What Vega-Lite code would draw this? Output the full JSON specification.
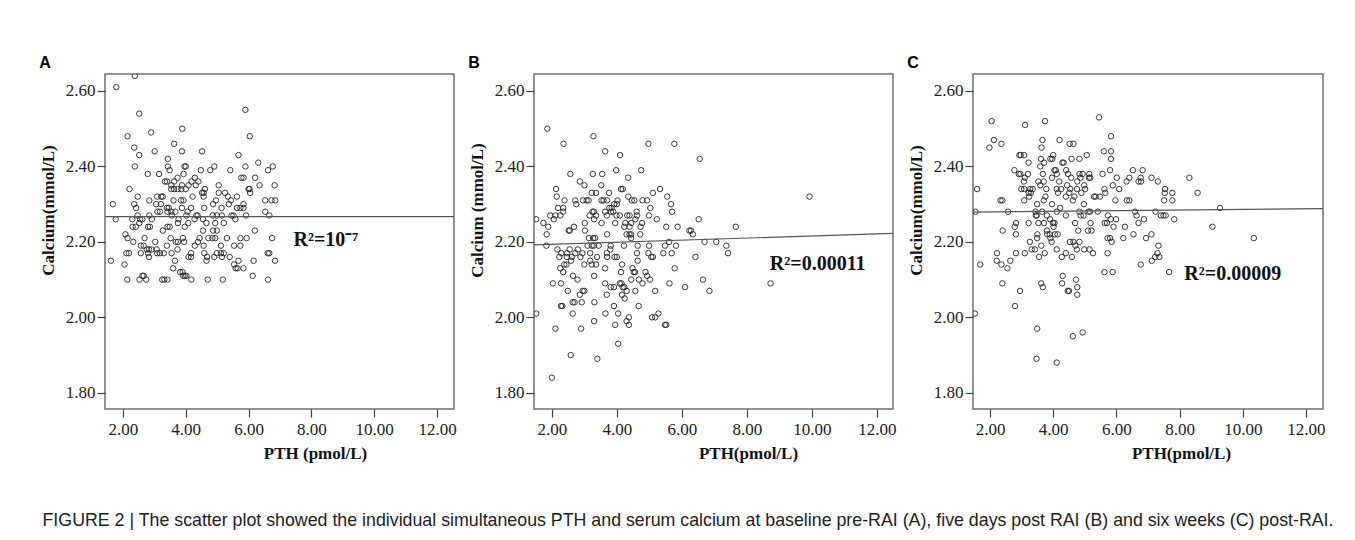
{
"$schema": "https://vega.github.io/schema/vega-lite/v6.json",
"background": "white",
"padding": {"left": 38, "top": 54, "right": 5, "bottom": 5},
"bounds": "flush",
"spacing": 80,
"title": {"text": "FIGURE 2 | The scatter plot showed the individual simultaneous PTH and serum calcium at baseline pre-RAI (A), five days post RAI (B) and six weeks (C) post-RAI.", "orient": "bottom", "anchor": "start", "frame": "bounds", "font": "Liberation Sans", "fontSize": 17.8, "fontWeight": "normal", "color": "#222", "offset": 50, "dx": 4},
"config": {
  "view": {"stroke": "#707070", "strokeWidth": 1.5},
  "axis": {"grid": false, "domain": false, "labelFont": "Liberation Serif", "labelFontSize": 17, "labelColor": "#222", "tickColor": "#444", "tickSize": 8, "tickWidth": 1.2, "labelPadding": 3, "titleFont": "Liberation Serif", "titleFontSize": 17, "titleFontWeight": "bold", "titleColor": "#111"},
  "axisX": {"titlePadding": 8, "labelPadding": 4},
  "axisY": {"titlePadding": 8, "labelPadding": 2},
  "title": {"font": "Liberation Sans", "fontSize": 16, "fontWeight": "bold", "anchor": "start", "frame": "bounds", "offset": 3, "color": "#000"}
},
"datasets": {
"A": [{"p":2.38,"c":2.64},{"p":1.79,"c":2.61},{"p":2.52,"c":2.54},{"p":5.90,"c":2.55},{"p":3.89,"c":2.50},{"p":2.90,"c":2.49},{"p":2.15,"c":2.48},{"p":6.04,"c":2.48},{"p":3.63,"c":2.46},{"p":2.36,"c":2.45},{"p":3.01,"c":2.44},{"p":3.88,"c":2.44},{"p":4.52,"c":2.44},{"p":2.52,"c":2.43},{"p":5.68,"c":2.43},{"p":3.43,"c":2.42},{"p":6.31,"c":2.41},{"p":2.38,"c":2.40},{"p":3.43,"c":2.40},{"p":3.96,"c":2.40},{"p":4.00,"c":2.40},{"p":4.91,"c":2.40},{"p":5.90,"c":2.40},{"p":6.77,"c":2.40},{"p":3.49,"c":2.39},{"p":4.48,"c":2.39},{"p":4.78,"c":2.39},{"p":5.42,"c":2.39},{"p":6.62,"c":2.39},{"p":2.79,"c":2.38},{"p":3.15,"c":2.38},{"p":3.93,"c":2.38},{"p":5.77,"c":2.37},{"p":5.84,"c":2.37},{"p":6.21,"c":2.37},{"p":4.29,"c":2.37},{"p":3.74,"c":2.37},{"p":3.34,"c":2.36},{"p":3.40,"c":2.36},{"p":3.63,"c":2.36},{"p":4.18,"c":2.36},{"p":4.40,"c":2.36},{"p":6.00,"c":2.34},{"p":6.03,"c":2.34},{"p":3.54,"c":2.35},{"p":3.88,"c":2.35},{"p":4.32,"c":2.35},{"p":5.05,"c":2.35},{"p":6.35,"c":2.35},{"p":6.83,"c":2.35},{"p":2.21,"c":2.34},{"p":3.54,"c":2.34},{"p":3.63,"c":2.34},{"p":3.74,"c":2.34},{"p":3.86,"c":2.34},{"p":4.00,"c":2.34},{"p":4.09,"c":2.35},{"p":4.61,"c":2.34},{"p":4.52,"c":2.33},{"p":4.57,"c":2.33},{"p":5.05,"c":2.33},{"p":5.25,"c":2.33},{"p":6.05,"c":2.33},{"p":2.47,"c":2.32},{"p":3.09,"c":2.32},{"p":3.22,"c":2.32},{"p":3.27,"c":2.32},{"p":4.22,"c":2.32},{"p":4.57,"c":2.32},{"p":5.34,"c":2.32},{"p":5.63,"c":2.32},{"p":2.84,"c":2.31},{"p":3.85,"c":2.31},{"p":3.93,"c":2.31},{"p":3.61,"c":2.31},{"p":4.96,"c":2.31},{"p":5.44,"c":2.31},{"p":6.53,"c":2.31},{"p":6.73,"c":2.31},{"p":6.85,"c":2.31},{"p":1.68,"c":2.30},{"p":2.36,"c":2.30},{"p":3.06,"c":2.30},{"p":3.21,"c":2.30},{"p":4.87,"c":2.30},{"p":5.37,"c":2.30},{"p":5.84,"c":2.30},{"p":2.42,"c":2.29},{"p":3.40,"c":2.29},{"p":3.46,"c":2.29},{"p":3.88,"c":2.29},{"p":4.17,"c":2.29},{"p":4.59,"c":2.29},{"p":5.14,"c":2.29},{"p":5.63,"c":2.29},{"p":5.74,"c":2.29},{"p":5.84,"c":2.29},{"p":3.10,"c":2.28},{"p":3.18,"c":2.28},{"p":3.42,"c":2.28},{"p":3.54,"c":2.28},{"p":3.67,"c":2.28},{"p":4.06,"c":2.28},{"p":6.53,"c":2.28},{"p":1.77,"c":2.26},{"p":2.47,"c":2.27},{"p":2.84,"c":2.27},{"p":3.56,"c":2.27},{"p":4.02,"c":2.27},{"p":4.34,"c":2.27},{"p":4.38,"c":2.27},{"p":4.86,"c":2.27},{"p":4.99,"c":2.27},{"p":5.15,"c":2.27},{"p":5.46,"c":2.27},{"p":5.52,"c":2.27},{"p":5.92,"c":2.27},{"p":6.66,"c":2.27},{"p":2.30,"c":2.26},{"p":2.55,"c":2.26},{"p":2.62,"c":2.26},{"p":2.92,"c":2.26},{"p":3.77,"c":2.26},{"p":4.28,"c":2.26},{"p":4.55,"c":2.26},{"p":5.58,"c":2.26},{"p":2.31,"c":2.24},{"p":2.41,"c":2.24},{"p":2.52,"c":2.25},{"p":2.80,"c":2.24},{"p":2.86,"c":2.24},{"p":3.27,"c":2.23},{"p":3.42,"c":2.24},{"p":3.49,"c":2.24},{"p":3.75,"c":2.25},{"p":4.08,"c":2.25},{"p":4.66,"c":2.25},{"p":4.94,"c":2.25},{"p":5.21,"c":2.25},{"p":3.97,"c":2.24},{"p":4.55,"c":2.23},{"p":4.87,"c":2.23},{"p":4.99,"c":2.23},{"p":6.20,"c":2.23},{"p":2.08,"c":2.22},{"p":2.15,"c":2.21},{"p":2.33,"c":2.20},{"p":2.69,"c":2.21},{"p":3.52,"c":2.21},{"p":3.91,"c":2.21},{"p":4.44,"c":2.21},{"p":4.72,"c":2.21},{"p":4.85,"c":2.21},{"p":4.94,"c":2.21},{"p":5.31,"c":2.21},{"p":5.74,"c":2.21},{"p":5.94,"c":2.21},{"p":6.75,"c":2.21},{"p":3.03,"c":2.20},{"p":3.68,"c":2.20},{"p":3.75,"c":2.20},{"p":3.95,"c":2.20},{"p":4.39,"c":2.20},{"p":2.57,"c":2.19},{"p":2.66,"c":2.19},{"p":3.40,"c":2.19},{"p":4.29,"c":2.19},{"p":4.57,"c":2.19},{"p":5.12,"c":2.19},{"p":5.54,"c":2.19},{"p":5.74,"c":2.19},{"p":2.76,"c":2.18},{"p":2.83,"c":2.18},{"p":2.91,"c":2.18},{"p":3.08,"c":2.18},{"p":3.74,"c":2.18},{"p":2.11,"c":2.17},{"p":2.19,"c":2.17},{"p":2.57,"c":2.17},{"p":2.80,"c":2.17},{"p":3.09,"c":2.17},{"p":3.18,"c":2.17},{"p":3.30,"c":2.17},{"p":3.55,"c":2.17},{"p":4.17,"c":2.17},{"p":4.59,"c":2.17},{"p":4.99,"c":2.17},{"p":5.12,"c":2.17},{"p":5.21,"c":2.17},{"p":6.61,"c":2.17},{"p":6.66,"c":2.17},{"p":1.62,"c":2.15},{"p":2.83,"c":2.16},{"p":4.09,"c":2.16},{"p":4.17,"c":2.16},{"p":4.68,"c":2.16},{"p":4.91,"c":2.16},{"p":5.15,"c":2.16},{"p":5.40,"c":2.16},{"p":3.66,"c":2.15},{"p":4.66,"c":2.15},{"p":5.68,"c":2.15},{"p":6.16,"c":2.15},{"p":6.84,"c":2.15},{"p":2.05,"c":2.14},{"p":5.54,"c":2.14},{"p":5.59,"c":2.13},{"p":5.65,"c":2.13},{"p":5.84,"c":2.13},{"p":3.60,"c":2.13},{"p":3.82,"c":2.12},{"p":3.90,"c":2.12},{"p":3.92,"c":2.11},{"p":3.97,"c":2.11},{"p":4.02,"c":2.11},{"p":2.62,"c":2.11},{"p":2.66,"c":2.11},{"p":6.13,"c":2.11},{"p":2.14,"c":2.10},{"p":2.53,"c":2.10},{"p":2.74,"c":2.10},{"p":3.25,"c":2.10},{"p":3.32,"c":2.10},{"p":3.42,"c":2.10},{"p":4.18,"c":2.10},{"p":4.70,"c":2.10},{"p":5.18,"c":2.10},{"p":6.62,"c":2.10}],
"B": [{"p":1.86,"c":2.50},{"p":3.28,"c":2.48},{"p":2.36,"c":2.46},{"p":4.97,"c":2.46},{"p":5.77,"c":2.46},{"p":3.64,"c":2.44},{"p":4.10,"c":2.43},{"p":6.55,"c":2.42},{"p":3.98,"c":2.39},{"p":4.75,"c":2.39},{"p":2.57,"c":2.38},{"p":3.26,"c":2.38},{"p":3.55,"c":2.38},{"p":4.35,"c":2.37},{"p":2.86,"c":2.36},{"p":3.00,"c":2.35},{"p":3.52,"c":2.35},{"p":5.33,"c":2.34},{"p":2.13,"c":2.34},{"p":4.13,"c":2.34},{"p":4.18,"c":2.34},{"p":3.36,"c":2.33},{"p":3.76,"c":2.33},{"p":5.11,"c":2.33},{"p":2.15,"c":2.32},{"p":3.23,"c":2.33},{"p":4.35,"c":2.32},{"p":5.55,"c":2.32},{"p":2.39,"c":2.31},{"p":2.72,"c":2.31},{"p":2.96,"c":2.31},{"p":3.07,"c":2.31},{"p":3.13,"c":2.31},{"p":3.53,"c":2.31},{"p":3.59,"c":2.31},{"p":3.70,"c":2.31},{"p":4.02,"c":2.31},{"p":4.46,"c":2.31},{"p":4.54,"c":2.31},{"p":4.79,"c":2.31},{"p":4.93,"c":2.31},{"p":2.75,"c":2.30},{"p":3.92,"c":2.30},{"p":4.00,"c":2.30},{"p":5.67,"c":2.30},{"p":2.19,"c":2.29},{"p":2.35,"c":2.29},{"p":3.77,"c":2.29},{"p":3.84,"c":2.29},{"p":5.03,"c":2.29},{"p":3.25,"c":2.28},{"p":3.29,"c":2.28},{"p":2.35,"c":2.28},{"p":3.64,"c":2.28},{"p":3.82,"c":2.28},{"p":3.89,"c":2.28},{"p":4.61,"c":2.28},{"p":5.70,"c":2.28},{"p":1.95,"c":2.27},{"p":2.11,"c":2.27},{"p":2.26,"c":2.27},{"p":3.16,"c":2.27},{"p":3.36,"c":2.27},{"p":3.69,"c":2.27},{"p":3.99,"c":2.27},{"p":4.09,"c":2.27},{"p":4.32,"c":2.27},{"p":4.39,"c":2.27},{"p":4.62,"c":2.27},{"p":4.99,"c":2.27},{"p":1.52,"c":2.26},{"p":2.06,"c":2.26},{"p":3.30,"c":2.26},{"p":4.57,"c":2.26},{"p":5.23,"c":2.26},{"p":6.52,"c":2.26},{"p":1.74,"c":2.25},{"p":3.01,"c":2.25},{"p":3.53,"c":2.25},{"p":3.95,"c":2.25},{"p":4.26,"c":2.25},{"p":4.44,"c":2.25},{"p":4.78,"c":2.25},{"p":1.89,"c":2.24},{"p":2.68,"c":2.24},{"p":4.23,"c":2.24},{"p":4.39,"c":2.24},{"p":4.73,"c":2.24},{"p":5.52,"c":2.24},{"p":5.87,"c":2.24},{"p":7.66,"c":2.24},{"p":2.52,"c":2.23},{"p":2.55,"c":2.23},{"p":3.02,"c":2.23},{"p":6.23,"c":2.23},{"p":6.28,"c":2.23},{"p":1.84,"c":2.22},{"p":3.70,"c":2.22},{"p":4.30,"c":2.22},{"p":4.39,"c":2.22},{"p":4.44,"c":2.22},{"p":4.72,"c":2.22},{"p":6.34,"c":2.22},{"p":3.14,"c":2.21},{"p":3.27,"c":2.21},{"p":3.33,"c":2.21},{"p":4.44,"c":2.21},{"p":5.61,"c":2.20},{"p":6.70,"c":2.20},{"p":7.06,"c":2.20},{"p":1.83,"c":2.19},{"p":3.10,"c":2.19},{"p":3.23,"c":2.19},{"p":3.29,"c":2.19},{"p":3.44,"c":2.19},{"p":3.81,"c":2.19},{"p":4.22,"c":2.19},{"p":4.64,"c":2.19},{"p":4.99,"c":2.19},{"p":5.48,"c":2.19},{"p":5.82,"c":2.19},{"p":7.37,"c":2.19},{"p":2.17,"c":2.18},{"p":2.55,"c":2.18},{"p":2.80,"c":2.18},{"p":3.80,"c":2.18},{"p":2.29,"c":2.17},{"p":2.47,"c":2.17},{"p":2.72,"c":2.17},{"p":2.94,"c":2.17},{"p":3.18,"c":2.17},{"p":3.69,"c":2.17},{"p":4.62,"c":2.17},{"p":4.97,"c":2.17},{"p":5.43,"c":2.17},{"p":5.69,"c":2.17},{"p":7.42,"c":2.17},{"p":2.23,"c":2.16},{"p":2.46,"c":2.16},{"p":2.61,"c":2.16},{"p":2.88,"c":2.16},{"p":3.39,"c":2.16},{"p":3.70,"c":2.16},{"p":3.93,"c":2.16},{"p":4.00,"c":2.16},{"p":5.06,"c":2.16},{"p":5.11,"c":2.16},{"p":6.42,"c":2.16},{"p":2.59,"c":2.15},{"p":3.18,"c":2.15},{"p":4.64,"c":2.15},{"p":2.38,"c":2.14},{"p":2.45,"c":2.14},{"p":3.00,"c":2.14},{"p":3.23,"c":2.14},{"p":3.36,"c":2.14},{"p":4.16,"c":2.14},{"p":5.78,"c":2.13},{"p":2.26,"c":2.13},{"p":3.64,"c":2.13},{"p":4.48,"c":2.13},{"p":2.35,"c":2.12},{"p":4.13,"c":2.12},{"p":4.52,"c":2.12},{"p":4.56,"c":2.12},{"p":4.88,"c":2.12},{"p":2.65,"c":2.11},{"p":3.30,"c":2.11},{"p":4.93,"c":2.11},{"p":6.65,"c":2.10},{"p":2.79,"c":2.10},{"p":4.44,"c":2.10},{"p":4.68,"c":2.10},{"p":5.02,"c":2.10},{"p":2.03,"c":2.09},{"p":2.28,"c":2.09},{"p":3.64,"c":2.09},{"p":4.09,"c":2.09},{"p":4.14,"c":2.09},{"p":4.79,"c":2.09},{"p":5.62,"c":2.09},{"p":8.73,"c":2.09},{"p":3.81,"c":2.08},{"p":3.91,"c":2.08},{"p":4.18,"c":2.08},{"p":4.23,"c":2.08},{"p":6.10,"c":2.08},{"p":3.00,"c":2.07},{"p":2.49,"c":2.07},{"p":2.95,"c":2.07},{"p":4.30,"c":2.07},{"p":4.57,"c":2.07},{"p":5.18,"c":2.07},{"p":6.85,"c":2.07},{"p":2.86,"c":2.06},{"p":3.69,"c":2.06},{"p":4.16,"c":2.06},{"p":4.24,"c":2.05},{"p":2.64,"c":2.04},{"p":2.70,"c":2.04},{"p":2.92,"c":2.04},{"p":3.31,"c":2.04},{"p":2.28,"c":2.03},{"p":2.32,"c":2.03},{"p":3.91,"c":2.03},{"p":4.67,"c":2.03},{"p":1.52,"c":2.01},{"p":2.64,"c":2.01},{"p":3.65,"c":2.01},{"p":4.04,"c":2.01},{"p":5.28,"c":2.01},{"p":4.37,"c":2.00},{"p":5.08,"c":2.00},{"p":5.18,"c":2.00},{"p":4.30,"c":1.99},{"p":3.30,"c":1.99},{"p":2.11,"c":1.97},{"p":2.90,"c":1.97},{"p":3.95,"c":1.98},{"p":4.37,"c":1.98},{"p":5.48,"c":1.98},{"p":5.52,"c":1.98},{"p":4.04,"c":1.93},{"p":2.58,"c":1.90},{"p":3.40,"c":1.89},{"p":2.00,"c":1.84},{"p":9.93,"c":2.32}],
"C": [{"p":5.45,"c":2.53},{"p":2.05,"c":2.52},{"p":3.11,"c":2.51},{"p":3.74,"c":2.52},{"p":5.83,"c":2.48},{"p":2.12,"c":2.47},{"p":3.66,"c":2.47},{"p":4.20,"c":2.47},{"p":2.36,"c":2.46},{"p":4.52,"c":2.46},{"p":4.64,"c":2.46},{"p":1.98,"c":2.45},{"p":3.63,"c":2.45},{"p":5.60,"c":2.44},{"p":5.83,"c":2.44},{"p":2.93,"c":2.43},{"p":2.97,"c":2.43},{"p":3.08,"c":2.43},{"p":4.00,"c":2.43},{"p":5.06,"c":2.43},{"p":3.61,"c":2.42},{"p":3.91,"c":2.42},{"p":3.97,"c":2.42},{"p":4.58,"c":2.42},{"p":4.83,"c":2.42},{"p":5.83,"c":2.42},{"p":3.22,"c":2.41},{"p":3.71,"c":2.41},{"p":4.29,"c":2.41},{"p":4.33,"c":2.41},{"p":3.59,"c":2.40},{"p":2.77,"c":2.39},{"p":4.04,"c":2.39},{"p":4.08,"c":2.39},{"p":4.41,"c":2.39},{"p":5.80,"c":2.39},{"p":6.52,"c":2.39},{"p":6.83,"c":2.39},{"p":2.91,"c":2.38},{"p":2.96,"c":2.38},{"p":3.20,"c":2.38},{"p":3.67,"c":2.38},{"p":4.11,"c":2.38},{"p":4.47,"c":2.38},{"p":4.83,"c":2.38},{"p":4.93,"c":2.38},{"p":5.14,"c":2.38},{"p":5.56,"c":2.38},{"p":3.10,"c":2.37},{"p":3.96,"c":2.37},{"p":4.57,"c":2.37},{"p":4.86,"c":2.37},{"p":5.13,"c":2.37},{"p":5.17,"c":2.37},{"p":6.01,"c":2.37},{"p":6.41,"c":2.37},{"p":6.77,"c":2.37},{"p":7.11,"c":2.37},{"p":8.31,"c":2.37},{"p":3.07,"c":2.36},{"p":3.53,"c":2.36},{"p":3.70,"c":2.36},{"p":4.19,"c":2.36},{"p":4.76,"c":2.36},{"p":6.32,"c":2.36},{"p":6.70,"c":2.36},{"p":6.78,"c":2.36},{"p":7.31,"c":2.36},{"p":3.59,"c":2.35},{"p":4.44,"c":2.35},{"p":4.98,"c":2.35},{"p":5.89,"c":2.35},{"p":1.59,"c":2.34},{"p":2.99,"c":2.34},{"p":3.08,"c":2.34},{"p":3.27,"c":2.34},{"p":3.35,"c":2.34},{"p":3.78,"c":2.34},{"p":4.11,"c":2.34},{"p":4.25,"c":2.34},{"p":4.54,"c":2.34},{"p":4.75,"c":2.34},{"p":5.01,"c":2.34},{"p":5.62,"c":2.34},{"p":6.09,"c":2.34},{"p":7.54,"c":2.34},{"p":3.22,"c":2.33},{"p":3.29,"c":2.33},{"p":4.15,"c":2.33},{"p":4.51,"c":2.33},{"p":4.89,"c":2.33},{"p":5.65,"c":2.33},{"p":7.53,"c":2.33},{"p":7.77,"c":2.33},{"p":8.57,"c":2.33},{"p":3.24,"c":2.32},{"p":3.75,"c":2.32},{"p":4.40,"c":2.32},{"p":4.67,"c":2.32},{"p":5.29,"c":2.32},{"p":5.34,"c":2.32},{"p":5.48,"c":2.32},{"p":2.33,"c":2.31},{"p":2.39,"c":2.31},{"p":3.08,"c":2.31},{"p":3.70,"c":2.31},{"p":4.62,"c":2.31},{"p":5.97,"c":2.31},{"p":6.33,"c":2.31},{"p":6.41,"c":2.31},{"p":7.51,"c":2.31},{"p":7.77,"c":2.31},{"p":3.49,"c":2.30},{"p":3.96,"c":2.30},{"p":4.97,"c":2.30},{"p":4.22,"c":2.29},{"p":9.28,"c":2.29},{"p":1.54,"c":2.28},{"p":2.57,"c":2.28},{"p":3.44,"c":2.28},{"p":3.65,"c":2.28},{"p":4.11,"c":2.28},{"p":4.83,"c":2.28},{"p":5.12,"c":2.28},{"p":5.17,"c":2.28},{"p":5.41,"c":2.28},{"p":6.59,"c":2.28},{"p":7.24,"c":2.28},{"p":3.45,"c":2.27},{"p":3.48,"c":2.27},{"p":3.80,"c":2.27},{"p":4.40,"c":2.27},{"p":4.87,"c":2.27},{"p":4.96,"c":2.27},{"p":5.73,"c":2.27},{"p":6.64,"c":2.27},{"p":7.41,"c":2.27},{"p":7.49,"c":2.27},{"p":7.56,"c":2.27},{"p":3.90,"c":2.26},{"p":5.82,"c":2.26},{"p":5.99,"c":2.26},{"p":6.87,"c":2.26},{"p":7.83,"c":2.26},{"p":2.82,"c":2.25},{"p":3.22,"c":2.25},{"p":3.53,"c":2.25},{"p":3.71,"c":2.25},{"p":3.99,"c":2.25},{"p":4.04,"c":2.25},{"p":4.69,"c":2.25},{"p":5.18,"c":2.25},{"p":5.63,"c":2.25},{"p":5.70,"c":2.25},{"p":6.70,"c":2.25},{"p":2.78,"c":2.24},{"p":4.01,"c":2.24},{"p":5.91,"c":2.24},{"p":6.27,"c":2.24},{"p":9.04,"c":2.24},{"p":2.40,"c":2.23},{"p":3.80,"c":2.23},{"p":4.79,"c":2.23},{"p":5.10,"c":2.23},{"p":5.21,"c":2.23},{"p":2.82,"c":2.22},{"p":3.50,"c":2.22},{"p":3.81,"c":2.22},{"p":3.89,"c":2.22},{"p":4.05,"c":2.22},{"p":4.14,"c":2.22},{"p":6.54,"c":2.22},{"p":7.11,"c":2.22},{"p":3.49,"c":2.21},{"p":3.91,"c":2.21},{"p":5.72,"c":2.21},{"p":5.80,"c":2.21},{"p":6.22,"c":2.21},{"p":6.94,"c":2.21},{"p":10.35,"c":2.21},{"p":3.26,"c":2.20},{"p":3.95,"c":2.20},{"p":4.53,"c":2.20},{"p":4.64,"c":2.20},{"p":4.83,"c":2.20},{"p":5.85,"c":2.20},{"p":3.62,"c":2.19},{"p":4.70,"c":2.19},{"p":7.33,"c":2.19},{"p":3.32,"c":2.18},{"p":3.42,"c":2.18},{"p":4.11,"c":2.18},{"p":4.75,"c":2.18},{"p":4.98,"c":2.18},{"p":5.15,"c":2.18},{"p":2.22,"c":2.17},{"p":2.82,"c":2.17},{"p":3.10,"c":2.17},{"p":3.73,"c":2.17},{"p":4.40,"c":2.17},{"p":5.26,"c":2.17},{"p":5.72,"c":2.17},{"p":7.30,"c":2.17},{"p":3.55,"c":2.16},{"p":4.27,"c":2.16},{"p":4.59,"c":2.16},{"p":7.23,"c":2.16},{"p":7.36,"c":2.16},{"p":2.21,"c":2.15},{"p":2.64,"c":2.15},{"p":7.12,"c":2.15},{"p":1.69,"c":2.14},{"p":2.36,"c":2.14},{"p":6.77,"c":2.14},{"p":2.55,"c":2.13},{"p":5.62,"c":2.12},{"p":5.88,"c":2.12},{"p":7.67,"c":2.12},{"p":4.30,"c":2.11},{"p":4.72,"c":2.10},{"p":2.39,"c":2.09},{"p":3.62,"c":2.09},{"p":4.28,"c":2.09},{"p":3.67,"c":2.08},{"p":4.76,"c":2.08},{"p":2.95,"c":2.07},{"p":4.46,"c":2.07},{"p":4.50,"c":2.07},{"p":4.76,"c":2.06},{"p":2.79,"c":2.03},{"p":1.52,"c":2.01},{"p":3.49,"c":1.97},{"p":4.93,"c":1.96},{"p":4.62,"c":1.95},{"p":3.47,"c":1.89},{"p":4.11,"c":1.88}],
"LA": [{"p":1.43,"c":2.267},{"p":12.54,"c":2.267}],
"LB": [{"p":1.45,"c":2.192},{"p":12.5,"c":2.2225}],
"LC": [{"p":1.46,"c":2.279},{"p":12.54,"c":2.288}],
"TA": [{"p":7.43,"c":2.205,"t":"R²=10⁻⁷"}],
"TB": [{"p":8.71,"c":2.142,"t":"R²=0.00011"}],
"TC": [{"p":8.15,"c":2.114,"t":"R²=0.00009"}]
},
"hconcat": [
{
 "width": 349, "height": 335, "title": "A",
 "layer": [
  {"data": {"name": "A"}, "mark": {"type": "point", "shape": "circle", "filled": false, "size": 30, "strokeWidth": 1, "color": "#262626", "opacity": 0.9, "clip": true},
   "encoding": {
    "x": {"field": "p", "type": "quantitative", "scale": {"domain": [1.43, 12.54], "nice": false, "zero": false}, "axis": {"values": [2,4,6,8,10,12], "format": ".2f", "title": "PTH (pmol/L)", "titleX": 210}},
    "y": {"field": "c", "type": "quantitative", "scale": {"domain": [1.757, 2.645], "nice": false, "zero": false}, "axis": {"values": [1.8,2.0,2.2,2.4,2.6], "format": ".2f", "title": "Calcium(mmol/L)", "titleY": 136}}}},
  {"data": {"name": "LA"}, "mark": {"type": "line", "color": "#555", "strokeWidth": 1.2, "clip": true},
   "encoding": {"x": {"field": "p", "type": "quantitative"}, "y": {"field": "c", "type": "quantitative"}}},
  {"data": {"name": "TA"}, "mark": {"type": "text", "align": "left", "baseline": "middle", "font": "Liberation Serif", "fontSize": 20, "fontWeight": "bold", "color": "#111"},
   "encoding": {"x": {"field": "p", "type": "quantitative"}, "y": {"field": "c", "type": "quantitative"}, "text": {"field": "t"}}}
 ]
},
{
 "width": 359, "height": 335, "title": "B",
 "layer": [
  {"data": {"name": "B"}, "mark": {"type": "point", "shape": "circle", "filled": false, "size": 30, "strokeWidth": 1, "color": "#262626", "opacity": 0.9, "clip": true},
   "encoding": {
    "x": {"field": "p", "type": "quantitative", "scale": {"domain": [1.45, 12.5], "nice": false, "zero": false}, "axis": {"values": [2,4,6,8,10,12], "format": ".2f", "title": "PTH(pmol/L)", "titleX": 214}},
    "y": {"field": "c", "type": "quantitative", "scale": {"domain": [1.757, 2.645], "nice": false, "zero": false}, "axis": {"values": [1.8,2.0,2.2,2.4,2.6], "format": ".2f", "title": "Calcium (mmol/L)", "titleY": 136}}}},
  {"data": {"name": "LB"}, "mark": {"type": "line", "color": "#555", "strokeWidth": 1.2, "clip": true},
   "encoding": {"x": {"field": "p", "type": "quantitative"}, "y": {"field": "c", "type": "quantitative"}}},
  {"data": {"name": "TB"}, "mark": {"type": "text", "align": "left", "baseline": "middle", "font": "Liberation Serif", "fontSize": 20, "fontWeight": "bold", "color": "#111"},
   "encoding": {"x": {"field": "p", "type": "quantitative"}, "y": {"field": "c", "type": "quantitative"}, "text": {"field": "t"}}}
 ]
},
{
 "width": 350, "height": 335, "title": "C",
 "layer": [
  {"data": {"name": "C"}, "mark": {"type": "point", "shape": "circle", "filled": false, "size": 30, "strokeWidth": 1, "color": "#262626", "opacity": 0.9, "clip": true},
   "encoding": {
    "x": {"field": "p", "type": "quantitative", "scale": {"domain": [1.46, 12.54], "nice": false, "zero": false}, "axis": {"values": [2,4,6,8,10,12], "format": ".2f", "title": "PTH(pmol/L)", "titleX": 208}},
    "y": {"field": "c", "type": "quantitative", "scale": {"domain": [1.757, 2.645], "nice": false, "zero": false}, "axis": {"values": [1.8,2.0,2.2,2.4,2.6], "format": ".2f", "title": "Calcium(mmol/L)", "titleY": 136}}}},
  {"data": {"name": "LC"}, "mark": {"type": "line", "color": "#555", "strokeWidth": 1.2, "clip": true},
   "encoding": {"x": {"field": "p", "type": "quantitative"}, "y": {"field": "c", "type": "quantitative"}}},
  {"data": {"name": "TC"}, "mark": {"type": "text", "align": "left", "baseline": "middle", "font": "Liberation Serif", "fontSize": 20, "fontWeight": "bold", "color": "#111"},
   "encoding": {"x": {"field": "p", "type": "quantitative"}, "y": {"field": "c", "type": "quantitative"}, "text": {"field": "t"}}}
 ]
}
]
}
